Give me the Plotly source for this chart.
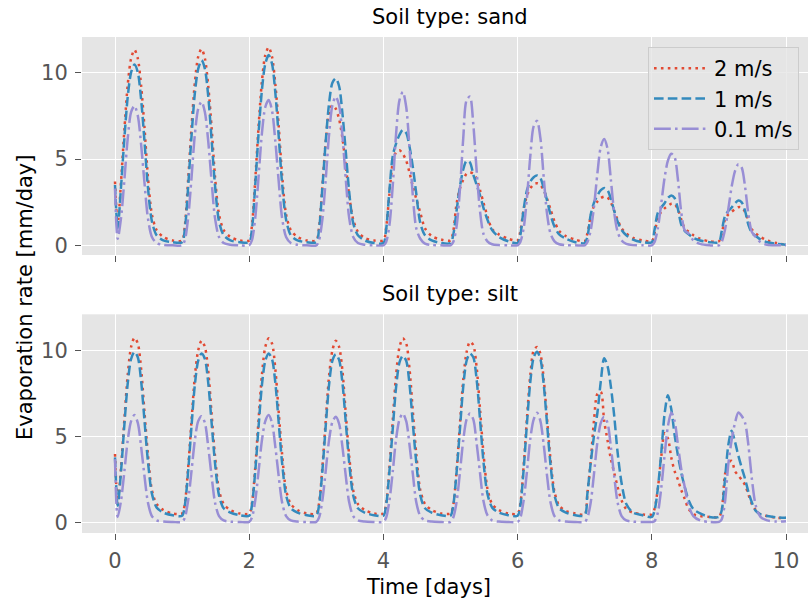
import plotly.graph_objects as go

# ---------------- data ----------------
DAYS = list(range(10))
OFFSETS = [0.0, 0.04, 0.09, 0.14, 0.19, 0.24, 0.29, 0.34, 0.39, 0.44, 0.49, 0.55, 0.62, 0.72, 0.86]
END_TIME = 10.0

SERIES_NAMES = ["2 m/s", "1 m/s", "0.1 m/s"]
SUBPLOT_TITLES = ["Soil type: sand", "Soil type: silt"]

# Soil type: sand  (one list per day, values at DAYS + OFFSETS)
sand_2ms = [
    [3.7, 1.2, 3.7, 6.7, 9.3, 10.8, 11.3, 10.8, 9.2, 6.8, 4.0, 1.8, 0.9, 0.5, 0.3],
    [0.3, 1.1, 3.8, 6.8, 9.4, 10.9, 11.35, 10.8, 9.2, 6.8, 4.0, 1.8, 0.9, 0.5, 0.3],
    [0.3, 1.1, 3.8, 6.9, 9.5, 11.0, 11.45, 10.9, 9.3, 6.9, 4.1, 1.8, 0.9, 0.5, 0.3],
    [0.3, 1.0, 3.4, 6.0, 7.7, 8.1, 7.9, 7.3, 6.2, 4.6, 2.9, 1.5, 0.8, 0.45, 0.3],
    [0.3, 1.0, 3.0, 4.8, 5.4, 5.5, 5.3, 4.9, 4.2, 3.4, 2.7, 1.9, 1.0, 0.55, 0.35],
    [0.3, 0.8, 2.4, 3.3, 3.8, 4.15, 4.22, 4.15, 3.85, 3.2, 2.5, 1.7, 0.95, 0.65, 0.4],
    [0.3, 0.8, 2.1, 2.9, 3.3, 3.55, 3.6, 3.5, 3.2, 2.7, 2.1, 1.4, 0.85, 0.55, 0.35],
    [0.25, 0.7, 1.7, 2.3, 2.55, 2.75, 2.83, 2.78, 2.5, 2.0, 1.5, 1.0, 0.7, 0.45, 0.3],
    [0.25, 0.7, 1.6, 1.95, 2.15, 2.3, 2.42, 2.4, 2.1, 1.5, 1.0, 0.8, 0.6, 0.4, 0.25],
    [0.25, 0.65, 1.5, 1.8, 1.95, 2.1, 2.22, 2.2, 1.95, 1.45, 0.95, 0.7, 0.5, 0.3, 0.15],
]
sand_2ms_end = 0.05

sand_1ms = [
    [3.5, 1.0, 3.4, 6.2, 8.6, 10.0, 10.45, 10.0, 8.4, 6.0, 3.4, 1.4, 0.6, 0.3, 0.2],
    [0.2, 0.9, 3.4, 6.3, 8.8, 10.2, 10.7, 10.2, 8.6, 6.1, 3.5, 1.4, 0.6, 0.3, 0.2],
    [0.2, 0.9, 3.5, 6.5, 9.0, 10.5, 11.0, 10.5, 8.8, 6.3, 3.6, 1.5, 0.6, 0.3, 0.2],
    [0.2, 0.9, 3.3, 6.0, 8.2, 9.4, 9.65, 9.2, 7.6, 5.4, 3.1, 1.3, 0.6, 0.3, 0.15],
    [0.15, 0.9, 3.2, 5.2, 5.9, 6.4, 6.69, 6.5, 5.7, 4.5, 3.0, 1.3, 0.6, 0.3, 0.15],
    [0.15, 0.6, 2.0, 3.4, 4.4, 4.9, 4.8, 4.1, 3.5, 2.9, 2.2, 1.5, 0.9, 0.5, 0.25],
    [0.15, 0.6, 2.1, 3.2, 3.7, 3.95, 4.05, 3.9, 3.3, 2.6, 1.8, 1.1, 0.65, 0.4, 0.2],
    [0.15, 0.5, 1.8, 2.5, 2.9, 3.2, 3.33, 3.2, 2.7, 2.0, 1.4, 0.9, 0.6, 0.35, 0.2],
    [0.2, 0.9, 1.9, 2.2, 2.45, 2.75, 2.9, 2.75, 2.1, 1.2, 0.85, 0.65, 0.45, 0.3, 0.2],
    [0.2, 0.8, 1.7, 2.0, 2.2, 2.45, 2.6, 2.5, 2.0, 1.2, 0.75, 0.55, 0.35, 0.2, 0.1],
]
sand_1ms_end = 0.05

sand_01ms = [
    [3.3, 0.4, 1.6, 3.8, 6.2, 7.7, 8.07, 7.5, 5.8, 3.6, 1.6, 0.5, 0.15, 0.05, 0.02],
    [0.02, 0.3, 1.6, 3.9, 6.4, 7.9, 8.3, 7.7, 6.0, 3.7, 1.6, 0.5, 0.15, 0.05, 0.02],
    [0.02, 0.3, 1.6, 4.0, 6.5, 8.0, 8.4, 7.8, 6.0, 3.7, 1.6, 0.5, 0.15, 0.05, 0.02],
    [0.02, 0.3, 1.5, 3.8, 6.4, 8.1, 8.6, 8.1, 6.3, 3.8, 1.6, 0.5, 0.15, 0.05, 0.02],
    [0.02, 0.2, 1.2, 3.5, 6.5, 8.4, 8.87, 8.0, 5.6, 2.8, 1.0, 0.4, 0.12, 0.04, 0.02],
    [0.02, 0.2, 1.1, 3.2, 6.2, 8.4, 8.6, 7.0, 4.3, 2.0, 0.7, 0.25, 0.08, 0.03, 0.02],
    [0.02, 0.2, 1.0, 2.8, 5.2, 6.9, 7.2, 6.2, 3.9, 1.8, 0.7, 0.25, 0.08, 0.03, 0.02],
    [0.02, 0.2, 0.9, 2.3, 4.2, 5.7, 6.15, 5.6, 3.8, 1.9, 0.8, 0.3, 0.1, 0.03, 0.02],
    [0.02, 0.2, 1.0, 2.4, 3.9, 4.9, 5.3, 5.1, 3.8, 1.9, 0.9, 0.7, 0.3, 0.1, 0.02],
    [0.02, 0.2, 0.9, 2.1, 3.4, 4.3, 4.7, 4.5, 3.4, 1.8, 0.8, 0.5, 0.2, 0.05, 0.02],
]
sand_01ms_end = 0.02

# Soil type: silt
silt_2ms = [
    [4.0, 1.1, 3.2, 6.0, 8.6, 10.2, 10.73, 10.4, 8.9, 6.4, 4.0, 1.9, 1.1, 0.75, 0.55],
    [0.55, 1.1, 3.2, 5.9, 8.5, 10.0, 10.56, 10.2, 8.8, 6.3, 3.9, 1.9, 1.1, 0.75, 0.55],
    [0.55, 1.1, 3.2, 6.0, 8.6, 10.2, 10.7, 10.4, 8.9, 6.4, 4.0, 1.9, 1.1, 0.75, 0.55],
    [0.55, 1.1, 3.2, 5.9, 8.5, 10.0, 10.56, 10.2, 8.8, 6.3, 3.9, 1.9, 1.1, 0.75, 0.55],
    [0.55, 1.1, 3.2, 6.0, 8.6, 10.2, 10.7, 10.4, 8.9, 6.4, 4.0, 1.9, 1.1, 0.75, 0.55],
    [0.55, 1.0, 3.0, 5.7, 8.3, 9.9, 10.5, 10.3, 9.0, 6.6, 4.1, 2.0, 1.1, 0.75, 0.55],
    [0.55, 1.1, 3.3, 6.1, 8.6, 10.0, 10.2, 9.8, 8.3, 6.0, 3.7, 1.8, 1.0, 0.7, 0.55],
    [0.5, 1.7, 3.6, 6.0, 7.5, 7.6, 5.9, 4.8, 3.7, 2.9, 2.1, 1.3, 0.8, 0.6, 0.5],
    [0.5, 0.8, 2.0, 3.8, 5.2, 4.9, 3.8, 3.0, 2.5, 1.9, 1.4, 0.8, 0.5, 0.4, 0.35],
    [0.35, 0.7, 2.8, 3.5, 3.6, 3.0, 2.75, 2.5, 2.2, 1.65, 1.1, 0.75, 0.5, 0.4, 0.3],
]
silt_2ms_end = 0.3

silt_1ms = [
    [3.8, 1.0, 3.0, 5.7, 8.1, 9.5, 9.92, 9.6, 8.2, 5.9, 3.6, 1.7, 0.9, 0.6, 0.45],
    [0.42, 1.0, 3.0, 5.6, 8.0, 9.4, 9.82, 9.5, 8.1, 5.8, 3.5, 1.6, 0.85, 0.6, 0.45],
    [0.42, 1.0, 3.0, 5.6, 8.0, 9.4, 9.82, 9.5, 8.1, 5.8, 3.5, 1.6, 0.85, 0.6, 0.45],
    [0.42, 1.0, 3.0, 5.6, 8.0, 9.4, 9.77, 9.45, 8.1, 5.8, 3.5, 1.6, 0.85, 0.6, 0.45],
    [0.42, 1.0, 3.0, 5.5, 7.9, 9.3, 9.69, 9.4, 8.0, 5.7, 3.5, 1.6, 0.85, 0.6, 0.45],
    [0.42, 1.0, 2.9, 5.4, 7.9, 9.4, 9.82, 9.6, 8.3, 6.0, 3.6, 1.7, 0.9, 0.6, 0.45],
    [0.42, 1.0, 3.1, 5.8, 8.2, 9.6, 9.92, 9.5, 8.0, 5.7, 3.4, 1.6, 0.85, 0.6, 0.45],
    [0.45, 1.7, 3.5, 5.1, 6.4, 8.2, 9.55, 9.1, 7.9, 6.2, 4.1, 2.3, 1.1, 0.6, 0.45],
    [0.35, 0.7, 2.0, 4.0, 6.3, 7.4, 6.6, 5.1, 3.9, 2.9, 2.1, 1.3, 0.8, 0.55, 0.35],
    [0.35, 0.7, 2.5, 4.5, 5.35, 4.7, 3.9, 3.2, 2.55, 1.8, 1.2, 0.7, 0.5, 0.4, 0.33],
]
silt_1ms_end = 0.3

silt_01ms = [
    [3.7, 0.35, 1.3, 3.0, 4.8, 5.9, 6.25, 5.8, 4.4, 2.7, 1.2, 0.4, 0.15, 0.08, 0.06],
    [0.06, 0.3, 1.3, 3.0, 4.8, 5.9, 6.19, 5.8, 4.4, 2.7, 1.2, 0.4, 0.15, 0.08, 0.06],
    [0.06, 0.3, 1.3, 3.0, 4.8, 5.9, 6.25, 5.8, 4.4, 2.7, 1.2, 0.4, 0.15, 0.08, 0.06],
    [0.06, 0.3, 1.3, 3.0, 4.8, 5.85, 6.15, 5.75, 4.4, 2.7, 1.2, 0.4, 0.15, 0.08, 0.06],
    [0.06, 0.3, 1.3, 3.0, 4.9, 6.0, 6.34, 5.9, 4.5, 2.8, 1.2, 0.4, 0.15, 0.08, 0.06],
    [0.06, 0.3, 1.2, 2.9, 4.8, 6.0, 6.34, 6.0, 4.6, 2.9, 1.3, 0.45, 0.15, 0.08, 0.06],
    [0.06, 0.3, 1.3, 3.0, 4.9, 6.0, 6.38, 5.9, 4.5, 2.7, 1.2, 0.4, 0.15, 0.08, 0.06],
    [0.06, 0.3, 1.2, 2.9, 4.7, 5.8, 6.15, 5.8, 4.4, 2.7, 1.2, 0.4, 0.15, 0.08, 0.06],
    [0.06, 0.1, 0.6, 2.0, 3.9, 5.6, 6.4, 5.9, 4.5, 3.1, 2.1, 1.0, 0.4, 0.15, 0.06],
    [0.06, 0.2, 1.2, 3.4, 4.8, 5.8, 6.4, 6.2, 5.8, 4.5, 2.6, 1.0, 0.35, 0.15, 0.08],
]
silt_01ms_end = 0.1

X_TICKS = [0, 2, 4, 6, 8, 10]
Y_TICKS = [0, 5, 10]
X_LABEL = "Time [days]"
Y_LABEL = "Evaporation rate [mm/day]"

# ---------------- styling ----------------
COLORS = ["#E24A33", "#348ABD", "#988ED5"]
DASHES = ["2.6px,4.3px", "9.6px,4.2px", "16.8px,4.2px,2.6px,4.2px"]
FONT = "DejaVu Sans"

times = [d + o for d in DAYS for o in OFFSETS] + [END_TIME]


def flat(days, end):
    return [v for day in days for v in day] + [end]


panels = [
    [(sand_2ms, sand_2ms_end), (sand_1ms, sand_1ms_end), (sand_01ms, sand_01ms_end)],
    [(silt_2ms, silt_2ms_end), (silt_1ms, silt_1ms_end), (silt_01ms, silt_01ms_end)],
]

fig = go.Figure()
for p, series in enumerate(panels):
    for i, (days, end) in enumerate(series):
        fig.add_trace(go.Scatter(
            x=times, y=flat(days, end), mode="lines",
            name=SERIES_NAMES[i], showlegend=(p == 0),
            line=dict(color=COLORS[i], width=2.5, dash=DASHES[i],
                      shape="spline", smoothing=0.8),
            xaxis="x" if p == 0 else "x2", yaxis="y" if p == 0 else "y2",
        ))

axis_common = dict(
    showgrid=True, gridcolor="white", gridwidth=1.3, zeroline=False,
    showline=False, ticks="outside", ticklen=6, tickwidth=1, tickcolor="#555555",
    tickfont=dict(family=FONT, size=21, color="#555555"),
)

L, R, T, B = 82, 0, 37, 67
W, H = 808, 600
ph = H - T - B
pw = W - L - R


def py(px):
    return (H - B - px) / ph


def pxx(px):
    return (px - L) / pw


x_range = [(82 - 115) / 67.1, (808 - 115) / 67.1]

fig.update_layout(
    width=W, height=H,
    margin=dict(l=L, r=R, t=T, b=B),
    paper_bgcolor="white", plot_bgcolor="#E5E5E5",
    font=dict(family=FONT, size=21, color="black"),
    xaxis=dict(domain=[0, 1], anchor="y", range=x_range, tickvals=X_TICKS,
               showticklabels=False, **axis_common),
    yaxis=dict(domain=[py(255), 1], anchor="x", range=[-0.54, 12.04], tickvals=Y_TICKS,
               ticklabelstandoff=3, **axis_common),
    xaxis2=dict(domain=[0, 1], anchor="y2", range=x_range, tickvals=X_TICKS,
                ticklabelstandoff=3, **axis_common),
    yaxis2=dict(domain=[0, py(314.3)], anchor="x2", range=[-0.58, 12.09], tickvals=Y_TICKS,
                ticklabelstandoff=3, **axis_common),
    legend=dict(x=pxx(648), y=py(47), xanchor="left", yanchor="top",
                bgcolor="rgba(229,229,229,0.8)", bordercolor="#CCCCCC", borderwidth=1,
                font=dict(family=FONT, size=21, color="black"), itemwidth=55,
                tracegroupgap=0),
    annotations=[
        dict(text=SUBPLOT_TITLES[0], xref="paper", yref="paper", x=pxx(450), y=py(31),
             xanchor="center", yanchor="bottom", showarrow=False,
             font=dict(family=FONT, size=21, color="black")),
        dict(text=SUBPLOT_TITLES[1], xref="paper", yref="paper", x=pxx(450), y=py(308),
             xanchor="center", yanchor="bottom", showarrow=False,
             font=dict(family=FONT, size=21, color="black")),
        dict(text=X_LABEL, xref="paper", yref="paper", x=pxx(428), y=py(601),
             xanchor="center", yanchor="bottom", showarrow=False,
             font=dict(family=FONT, size=21, color="black")),
        dict(text=Y_LABEL, xref="paper", yref="paper", x=pxx(25), y=py(298),
             xanchor="center", yanchor="middle", showarrow=False, textangle=-90,
             font=dict(family=FONT, size=21, color="black")),
    ],
)

fig.write_html("out.html")
